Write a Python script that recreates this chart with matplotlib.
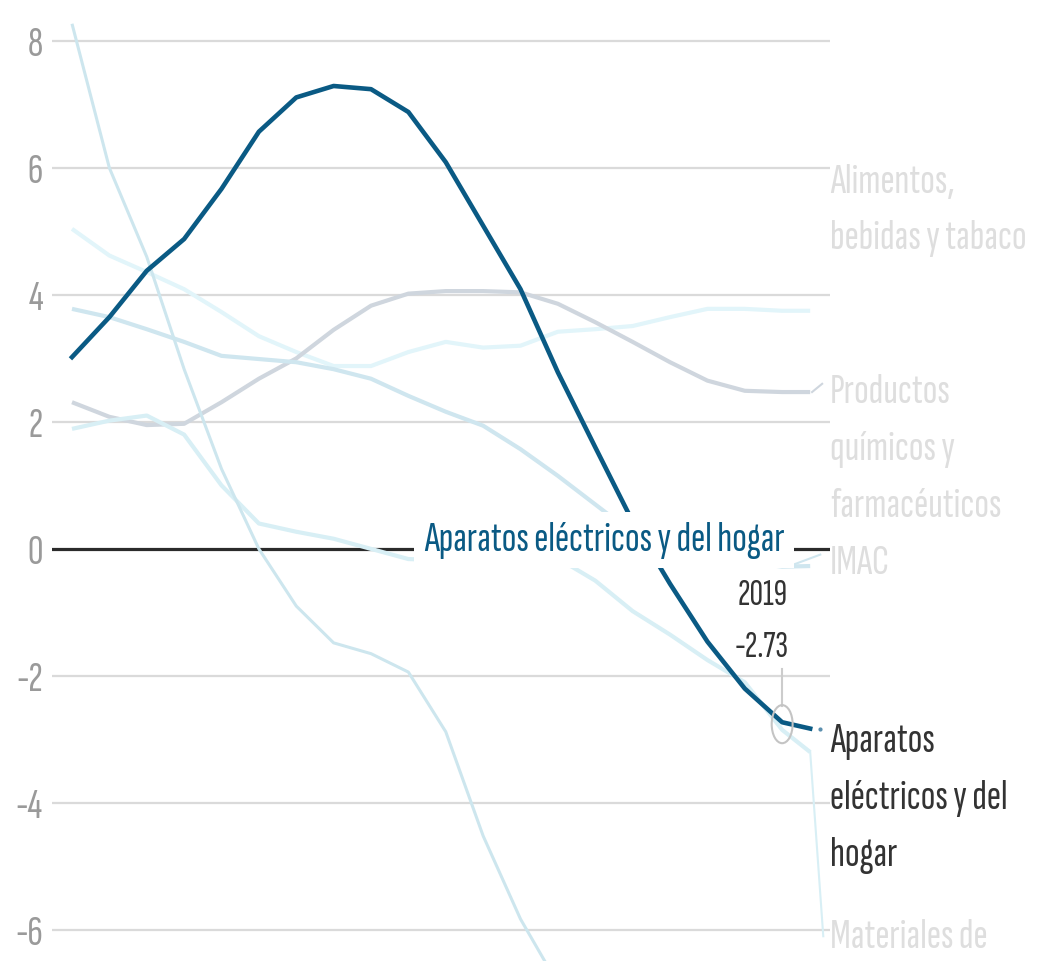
import numpy as np
import matplotlib.pyplot as plt
from matplotlib.patches import Ellipse

plt.rcParams['font.family'] = ['Sofia Sans Extra Condensed', 'DejaVu Sans']
plt.rcParams['axes.unicode_minus'] = False

# años (el último punto es el cierre del periodo)
anios = list(range(2000, 2020)) + [2019.75]

aparatos = [3.02, 3.65, 4.38, 4.88, 5.67, 6.57, 7.11, 7.29, 7.24, 6.88, 6.09,
            5.09, 4.09, 2.78, 1.60, 0.43, -0.55, -1.46, -2.20, -2.73, -2.83]
alimentos = [5.04, 4.62, 4.36, 4.09, 3.73, 3.35, 3.10, 2.88, 2.88, 3.10, 3.26,
             3.17, 3.20, 3.42, 3.46, 3.51, 3.65, 3.78, 3.78, 3.75, 3.75]
quimicos = [2.31, 2.08, 1.95, 1.97, 2.31, 2.68, 3.00, 3.45, 3.83, 4.02, 4.06,
            4.06, 4.04, 3.86, 3.57, 3.26, 2.94, 2.65, 2.49, 2.47, 2.47]
imac = [3.78, 3.65, 3.46, 3.26, 3.04, 2.99, 2.94, 2.83, 2.68, 2.41, 2.16,
        1.94, 1.57, 1.15, 0.70, 0.25, 0.00, -0.15, -0.20, -0.28, -0.27]
materiales = [1.89, 2.02, 2.10, 1.80, 1.00, 0.40, 0.27, 0.16, 0.00, -0.16, -0.18,
              -0.20, -0.20, -0.15, -0.50, -0.98, -1.35, -1.75, -2.10, -2.85, -3.20]
# rama que sale por debajo del gráfico
otra_rama = [8.27, 6.00, 4.60, 2.83, 1.26, 0.00, -0.90, -1.48, -1.65, -1.94, -2.88,
             -4.52, -5.83, -6.85] + [np.nan] * 7

y_ticks = [-6, -4, -2, 0, 2, 4, 6, 8]
anio_marca = 2019
valor_marca = -2.73

W, H = 1038, 962
fig = plt.figure(figsize=(W / 100, H / 100), dpi=100)
ax = fig.add_axes([52 / W, 0, (830 - 52) / W, 1])
ax.set_xlim(1999.465, 2020.28)
ax.set_ylim(-6.49, 8.66)

for t in y_ticks:
    if t == 0:
        ax.axhline(0, color='#2b2b2b', lw=2.3, zorder=1)
    else:
        ax.axhline(t, color='#dadada', lw=1.6, zorder=0)

ax.set_yticks(y_ticks)
ax.set_yticklabels([str(t) for t in y_ticks])
ax.tick_params(axis='y', length=0, pad=6.5, labelsize=31, labelcolor='#9a9a9a')
ax.set_xticks([])
for s in ax.spines.values():
    s.set_visible(False)

x = np.array(anios)
estilo = dict(solid_capstyle='butt', solid_joinstyle='round', zorder=2)
ax.plot(x, alimentos, color='#e2f5fa', lw=3.0, **estilo)
ax.plot(x, quimicos, color='#cfd6de', lw=3.0, **estilo)
ax.plot(x, imac, color='#cfe6ef', lw=3.0, **estilo)
ax.plot(x, materiales, color='#d8eff5', lw=3.0, **estilo)
ax.plot(x, otra_rama, color='#cde6ee', lw=2.2, **estilo)
ax.plot(x, aparatos, color='#0a5a84', lw=3.3, solid_joinstyle='round', zorder=4)

# conectores hacia las etiquetas de la derecha
ax.plot([2019.8, 2020.07], [quimicos[-1], 2.6], color='#cfd6de', lw=1.5, clip_on=False)
ax.plot([2019.2, 2020.02], [imac[-1], -0.09], color='#cfe6ef', lw=1.5, clip_on=False)
ax.plot([2019.75, 2020.1], [materiales[-1], -6.1], color='#d8eff5', lw=1.5, clip_on=False)
ax.plot([2020.0], [aparatos[-1]], marker='o', ms=2, color='#5b8fae', clip_on=False)

# marca del último año
ax.plot([anio_marca, anio_marca], [-1.89, -2.47], color='#cccccc', lw=1.5, zorder=5)
ax.add_patch(Ellipse((anio_marca, valor_marca - 0.03), 0.56, 0.6, fill=False,
                     edgecolor='#c4c4c4', lw=1.5, zorder=5))
ax.text(2019.16, -0.87, str(anio_marca), ha='right', va='baseline', fontsize=27,
        color='#333333', zorder=6)
ax.text(2019.16, -1.69, f'{valor_marca:.2f}', ha='right', va='baseline', fontsize=27,
        color='#333333', zorder=6)

ax.text(2014.24, -0.02, 'Aparatos eléctricos y del hogar', ha='center', va='baseline',
        fontsize=31, color='#0a5a84', zorder=7,
        bbox=dict(boxstyle='square,pad=0.22', facecolor='white', edgecolor='none'))


def etiqueta(lineas, base0, paso, color):
    for i, txt in enumerate(lineas):
        fig.text(830 / W, 1 - (base0 + i * paso) / H, txt, ha='left', va='baseline',
                 fontsize=31, color=color)


etiqueta(['Alimentos,', 'bebidas y tabaco'], 193, 56, '#dedede')
etiqueta(['Productos', 'químicos y', 'farmacéuticos'], 403, 57, '#dedede')
etiqueta(['IMAC'], 574, 57, '#dedede')
etiqueta(['Aparatos', 'eléctricos y del', 'hogar'], 752, 57, '#333333')
etiqueta(['Materiales de'], 948, 57, '#dedede')

fig.savefig('out.png', dpi=100)
